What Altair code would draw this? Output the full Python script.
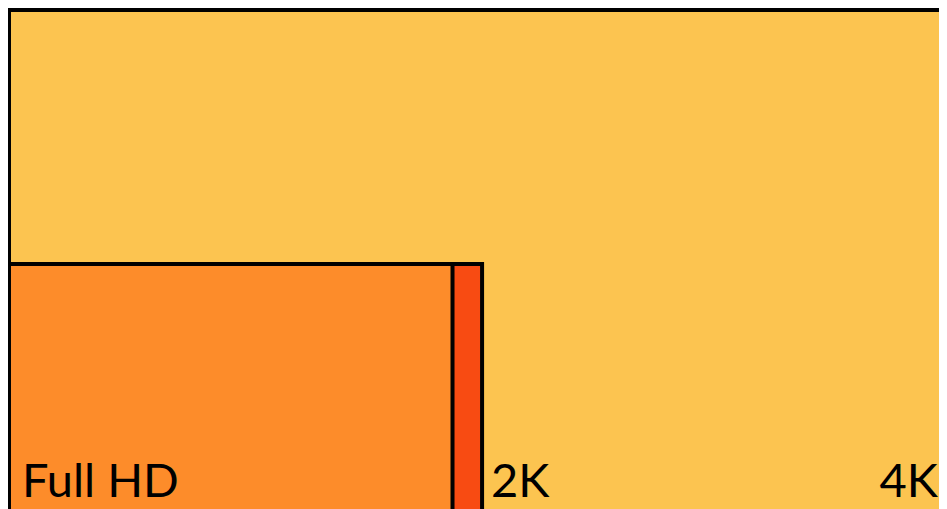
import altair as alt
import pandas as pd

# Screen resolutions (pixels) drawn to scale, anchored bottom-left
names = ["4K", "2K", "Full HD"]
res_w = [4096, 2048, 1920]
res_h = [2160, 1080, 1080]
fills = ["#FCC450", "#F84B12", "#FD8C2A"]

rects_df = pd.DataFrame({
    "name": names,
    "x0": [0, 0, 0],
    "x1": res_w,
    "y0": [0, 0, 0],
    "y1": res_h,
})

xs = alt.Scale(domain=[-4.3, 4026], nice=False, zero=False)
ys = alt.Scale(domain=[38, 2168], nice=False, zero=False)

rects = alt.Chart(rects_df).mark_rect(stroke="black", strokeWidth=4, clip=True).encode(
    x=alt.X("x0:Q", scale=xs, axis=None),
    x2="x1",
    y=alt.Y("y0:Q", scale=ys, axis=None),
    y2="y1",
    color=alt.Color("name:N", scale=alt.Scale(domain=names, range=fills), legend=None),
)

font = dict(font="Lato", fontSize=47, color="black", baseline="alphabetic")

lab_fhd = alt.Chart(pd.DataFrame({"name": ["Full HD"], "x": [0]})).mark_text(
    align="left", dx=13, **font
).encode(x=alt.X("x:Q", scale=xs, axis=None), y=alt.value(489), text="name:N")

lab_2k = alt.Chart(pd.DataFrame({"name": ["2K"], "x": [2048]})).mark_text(
    align="left", dx=9, **font
).encode(x=alt.X("x:Q", scale=xs, axis=None), y=alt.value(489), text="name:N")

lab_4k = alt.Chart(pd.DataFrame({"name": ["4K"]})).mark_text(
    align="right", **font
).encode(x=alt.value(930), y=alt.value(489), text="name:N")

chart = alt.layer(rects, lab_fhd, lab_2k, lab_4k).properties(
    width=931, height=501, padding=0, autosize=alt.AutoSizeParams(type="none")
).configure_view(stroke=None)

chart.save("out.html", embed_options={"renderer": "svg", "actions": False})
